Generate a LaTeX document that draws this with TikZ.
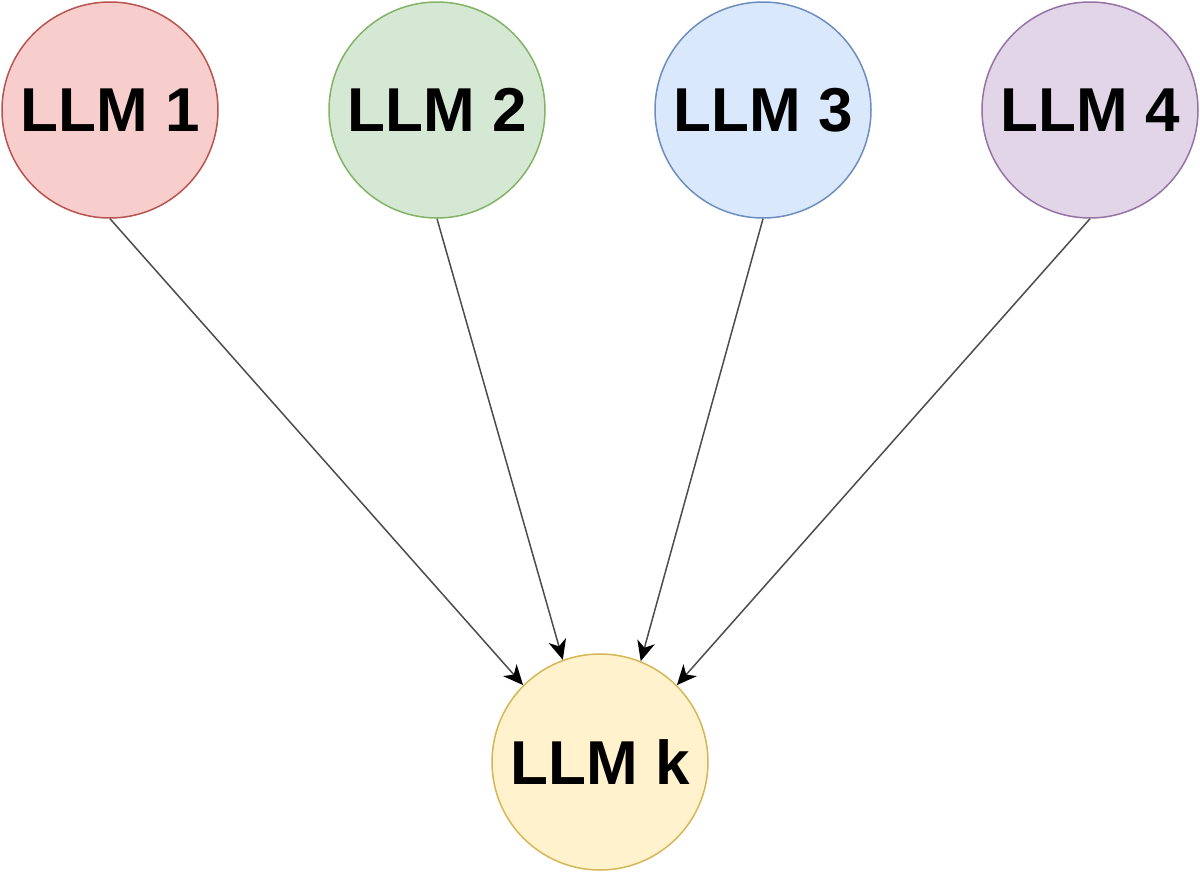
\documentclass[tikz,border=0pt]{standalone}
\usepackage{fontspec}
\setmainfont{Liberation Sans}
\usetikzlibrary{arrows.meta}
\definecolor{fillone}{HTML}{F8CECC}
\definecolor{drawone}{HTML}{B85450}
\definecolor{filltwo}{HTML}{D5E8D4}
\definecolor{drawtwo}{HTML}{82B366}
\definecolor{fillthree}{HTML}{DAE8FC}
\definecolor{drawthree}{HTML}{6C8EBF}
\definecolor{fillfour}{HTML}{E1D5E7}
\definecolor{drawfour}{HTML}{9673A6}
\definecolor{fillk}{HTML}{FFF2CC}
\definecolor{drawk}{HTML}{D6B656}
\begin{document}
\begin{tikzpicture}[x=0.5pt,y=-0.5pt]
\tikzstyle{every node}=[font=\fontsize{31}{37}\selectfont\bfseries]
\tikzstyle{llm}=[circle,minimum size=108pt,inner sep=0pt,line width=0.75pt]
\tikzstyle{feed}=[-{Stealth[length=10pt,width=9pt,inset=3pt,black]},line width=0.75pt,black!70]
\useasboundingbox (0,0) rectangle (1200,873);
%%%---------------------------------------------------------------
\foreach \i/\x/\f/\d in {1/110/fillone/drawone,2/437/filltwo/drawtwo,3/763/fillthree/drawthree,4/1090/fillfour/drawfour}{
  \node[llm,draw=\d,fill=\f] (llm\i) at (\x,110) {LLM \i};
}
\node[llm,draw=drawk,fill=fillk] (llmk) at (600,762) {LLM k};
%%%---------------------------------------------------------------
\draw[feed](llm1.south)--(llmk.135);
\draw[feed](llm2.south)--(llmk.110);
\draw[feed](llm3.south)--(llmk.68);
\draw[feed](llm4.south)--(llmk.45);
\end{tikzpicture}
\end{document}
